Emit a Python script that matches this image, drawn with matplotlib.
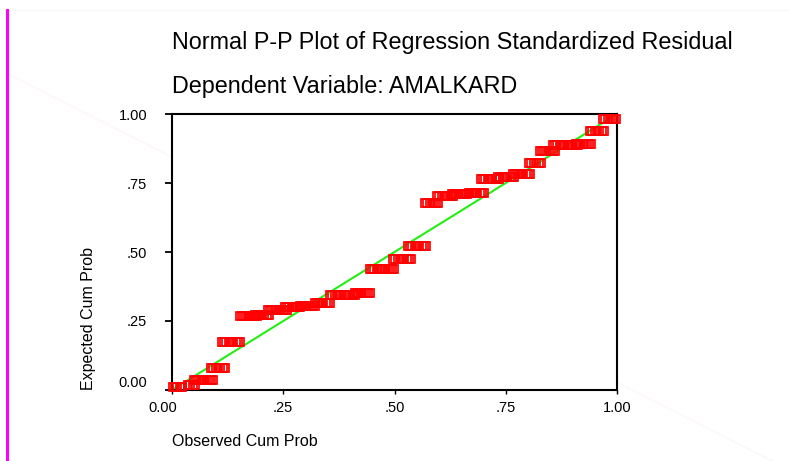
import numpy as np
import matplotlib
matplotlib.use("Agg")
import matplotlib.pyplot as plt
import matplotlib.transforms as mtransforms
from matplotlib.lines import Line2D

plt.rcParams['font.family'] = ['Liberation Sans', 'DejaVu Sans']

title_line1 = "Normal P-P Plot of Regression Standardized Residual"
title_line2 = "Dependent Variable: AMALKARD"
x_label = "Observed Cum Prob"
y_label = "Expected Cum Prob"
tick_values = [0.0, 0.25, 0.5, 0.75, 1.0]
tick_labels = ["0.00", ".25", ".50", ".75", "1.00"]

# Clusters of cases sharing the same expected cum prob (tied residuals)
cluster_obs_first = [0.002, 0.036, 0.049, 0.088, 0.112, 0.153, 0.187, 0.216, 0.254, 0.288,
                     0.321, 0.355, 0.411, 0.445, 0.497, 0.530, 0.569, 0.596, 0.629, 0.667,
                     0.694, 0.733, 0.766, 0.802, 0.827, 0.856, 0.908, 0.939, 0.969]
cluster_obs_last = [0.022, 0.052, 0.092, 0.119, 0.153, 0.191, 0.218, 0.258, 0.288, 0.321,
                    0.355, 0.411, 0.445, 0.499, 0.537, 0.571, 0.598, 0.631, 0.663, 0.701,
                    0.735, 0.769, 0.804, 0.829, 0.861, 0.912, 0.942, 0.971, 0.998]
cluster_expected = [0.011, 0.018, 0.036, 0.080, 0.175, 0.269, 0.273, 0.291, 0.302, 0.305,
                    0.316, 0.345, 0.353, 0.440, 0.473, 0.520, 0.676, 0.702, 0.709, 0.713,
                    0.764, 0.771, 0.782, 0.822, 0.865, 0.887, 0.891, 0.938, 0.982]
cluster_cases = [5, 4, 10, 7, 9, 9, 7, 10, 8, 8,
                 8, 12, 8, 12, 9, 9, 7, 8, 8, 8,
                 9, 8, 9, 6, 8, 12, 8, 7, 7]

W, H = 790, 461
fig = plt.figure(figsize=(W / 100, H / 100), dpi=100)
fig.patch.set_facecolor('white')

# decorative page elements
fig.add_artist(Line2D([7 / W, 7 / W], [1 - 10 / H, 0], color='#ff00ff', lw=2.2))
fig.add_artist(Line2D([10 / W, 1.0], [1 - 75 / H, 1 - 470 / H], color='#fdf4fd', lw=0.8, zorder=0))
fig.add_artist(Line2D([10 / W, 1.0], [1 - 10 / H, 1 - 10 / H], color='#f6f6f6', lw=0.8, zorder=0))

ax = fig.add_axes([172 / W, 1 - 390 / H, 445 / W, 276 / H])
ax.set_xlim(0, 1)
ax.set_ylim(0, 1)

ax.plot([0, 1], [0, 1], color='#22ee11', lw=1.5, zorder=2, clip_on=False)

for x0, x1, y, n in zip(cluster_obs_first, cluster_obs_last, cluster_expected, cluster_cases):
    xs = np.linspace(x0, x1, n)
    ax.plot(xs, np.full(n, y), linestyle='none', marker='s', markersize=5.2,
            markerfacecolor='none', markeredgecolor='#ff0000', markeredgewidth=1.25,
            zorder=3, clip_on=False)

for s in ax.spines.values():
    s.set_linewidth(1.5)
    s.set_color('black')

ax.set_xticks(tick_values)
ax.set_xticklabels(tick_labels)
ax.set_yticks(tick_values)
ax.set_yticklabels(tick_labels)
ax.tick_params(axis='y', direction='out', length=5, width=1.3, pad=13, labelsize=10.5)
ax.tick_params(axis='x', direction='out', length=3, width=1.0, pad=5, labelsize=10.5)

# SPSS shifts the origin labels away from each other
ylab0 = ax.get_yticklabels()[0]
ylab0.set_transform(ylab0.get_transform() + mtransforms.ScaledTranslation(0, 6 / 72, fig.dpi_scale_trans))
xlab0 = ax.get_xticklabels()[0]
xlab0.set_transform(xlab0.get_transform() + mtransforms.ScaledTranslation(-7 / 72, 0, fig.dpi_scale_trans))

fig.text(172 / W, 1 - 42 / H, title_line1, fontsize=16.8, ha='left', va='center')
fig.text(172 / W, 1 - 87 / H, title_line2, fontsize=16.8, ha='left', va='center')
fig.text(172 / W, 1 - 441 / H, x_label, fontsize=11.5, ha='left', va='center')
fig.text(89 / W, 1 - 318 / H, y_label, fontsize=11.5, ha='center', va='center', rotation=90)

fig.savefig('out.png', dpi=100)
